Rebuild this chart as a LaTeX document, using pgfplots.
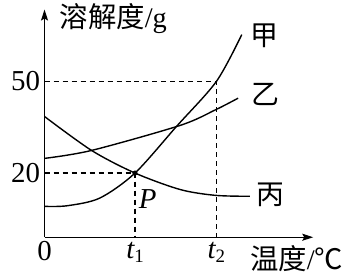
\documentclass[border=0pt]{standalone}
\usepackage{fontspec}
\setmainfont{Liberation Serif}
\newfontfamily\cjk{Noto Sans CJK SC}
\usepackage{pgfplots}
\pgfplotsset{compat=1.18}
\usetikzlibrary{arrows.meta}
\begin{document}
\begin{tikzpicture}
\begin{axis}[
  x=9.05bp, y=3.057bp,
  xmin=0, xmax=29.7, ymin=-1, ymax=73.5,
  axis lines=left,
  axis line style={line width=1.3bp, -{Stealth[length=11bp,width=7bp,inset=2bp]}},
  xtick={0,10,19}, xticklabels={0,{\itshape t}\raisebox{-0.35ex}{\fontsize{19}{19}\selectfont 1},{\itshape t}\raisebox{-0.35ex}{\fontsize{19}{19}\selectfont 2}},
  ytick={20,50}, yticklabels={20,50},
  major tick length=0pt,
  ticklabel style={font=\fontsize{29}{30}\selectfont},
  xticklabel style={yshift=-1bp},
  yticklabel style={xshift=-1bp},
  clip=false,
]
% invisible frame of the whole picture
\path (axis cs:-4.92,76.2) rectangle (axis cs:33.43,-12.17);
% guide lines
\addplot[line width=1.35bp, dash pattern=on 5bp off 4bp] coordinates {(0,20) (10,20) (10,-1)};
\addplot[line width=1.35bp, dash pattern=on 5bp off 4bp] coordinates {(0,50) (19,50) (19,-1)};
% 甲
\addplot[line width=1.4bp, smooth, tension=0.5] coordinates {
 (0,9.1) (2.5,9.3) (6.1,11.8) (10,20) (14.6,35.3) (19,50) (21.8,65.3)};
% 乙
\addplot[line width=1.4bp, smooth] coordinates {
 (0,24.8) (5.2,27.4) (15,35.6) (18.9,40.7) (21.4,44.5)};
% 丙
\addplot[line width=1.4bp, smooth] coordinates {
 (0,38.5) (5.2,27.4) (10,20) (15,14.6) (18.9,12.7) (22.7,12.4)};
% P
\addplot[only marks, mark=*, mark size=2.3bp] coordinates {(10,20)};
\node[font=\fontsize{28}{30}\selectfont\cjk] at (axis cs:24.3,65) {甲};
\node[font=\fontsize{28}{30}\selectfont\cjk] at (axis cs:24.4,45.7) {乙};
\node[font=\fontsize{28}{30}\selectfont\cjk] at (axis cs:25,13) {丙};
\node[font=\fontsize{29}{30}\selectfont\itshape] at (axis cs:11.4,11.4) {P};
\node[font=\fontsize{28.5}{30}\selectfont] at (axis cs:7.6,70.6) {{\cjk 溶解度}/g};
\node[font=\fontsize{28.5}{30}\selectfont, anchor=east] at (axis cs:33.4,-7.9) {{\cjk 温度}/{\cjk ℃}};
\end{axis}
\end{tikzpicture}
\end{document}
